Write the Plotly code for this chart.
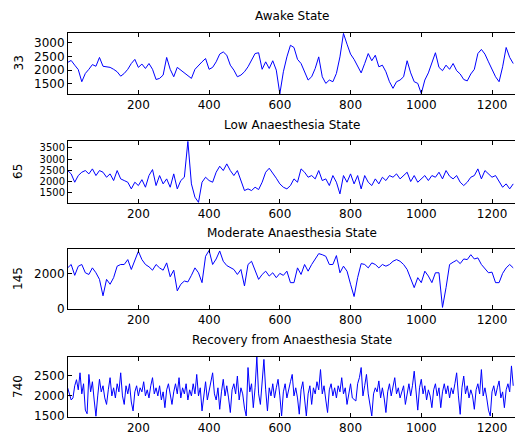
import plotly.graph_objects as go

# ---- data (sample index, signal value) ----
samples_10 = list(range(0, 1261, 10))
samples_5 = list(range(0, 1261, 5))

awake = [
    2280, 2350, 2180, 2020, 1580, 1880, 2030, 2200, 2140, 2460,
    2140, 2120, 2100, 2030, 1940, 1780, 1880, 2030, 2240, 2390,
    2100, 2220, 2060, 2240, 2030, 1660, 1700, 1820, 2460, 2030,
    1760, 2100, 2000, 1900, 1820, 1700, 2030, 2180, 2300, 2420,
    2030, 2100, 2300, 2580, 2660, 2540, 2180, 2000, 1760, 1820,
    1940, 2120, 2340, 2600, 2630, 2030, 2300, 2060, 2340, 2000,
    1140, 1940, 2480, 2900, 2820, 2390, 2240, 1940, 1640, 1760,
    2060, 2480, 1760, 1520, 1640, 1580, 1880, 2480, 3330, 2940,
    2580, 2390, 2140, 1900, 2240, 2600, 2340, 2540, 2120, 2180,
    1940, 1580, 1340, 1580, 1640, 1760, 2340, 1900, 1580, 1520,
    1150, 1640, 1900, 2300, 2630, 2100, 1980, 2180, 2030, 2240,
    1980, 1860, 1660, 1610, 1860, 2030, 2600, 2750, 2580, 2300,
    2000, 1760, 1580, 2120, 2820, 2460, 2240,
]

low = [
    2480, 2330, 1955, 2255, 2405, 2480, 2330, 2555, 2255, 2480,
    2405, 2180, 2330, 2030, 2480, 2105, 2030, 1955, 1655, 1955,
    1805, 2070, 1730, 2255, 2525, 1805, 2255, 1880, 2105, 1730,
    2330, 1655, 2030, 2180, 3790, 1880, 1280, 1050, 1955, 2180,
    2030, 1955, 2405, 2675, 2480, 2780, 2480, 2255, 2480, 1985,
    1580, 1655, 1580, 1730, 1625, 1955, 2405, 2585, 2375, 2135,
    1880, 1730, 1655, 1805, 2105, 1955, 2555, 2405, 2180, 2255,
    2105, 2480, 2030, 2105, 1805, 2255, 1955, 1430, 2255, 1955,
    2330, 1880, 2255, 1655, 2255, 1955, 1805, 2105, 1880, 2180,
    2030, 2255, 2180, 2330, 2105, 2255, 2405, 1985, 2255, 1955,
    2105, 2255, 2030, 2255, 2180, 2405, 2105, 2480, 2225, 2105,
    2255, 1955, 1805, 1955, 2180, 2255, 2555, 2105, 2480, 2330,
    2180, 2255, 1985, 1730, 1880, 1655, 1880,
]

moderate = [
    2310, 2500, 1890, 2400, 2500, 2035, 1940, 2310, 2035, 1665,
    740, 1665, 1390, 1760, 2405, 2500, 2500, 2775, 2220, 2680,
    3240, 2775, 2500, 2370, 2180, 2500, 2310, 2180, 2590, 1810,
    2180, 1020, 1390, 1570, 1520, 1890, 2310, 2035, 1480, 2960,
    3290, 2500, 2810, 3260, 2680, 2440, 2310, 2220, 1940, 2220,
    1295, 2500, 2680, 2220, 1665, 1940, 2125, 1850, 2035, 1760,
    2000, 1890, 2125, 1480, 1480, 2310, 1940, 2500, 2125, 2500,
    2775, 3110, 3050, 2960, 2500, 2500, 3000, 2035, 2405, 2125,
    1390, 700, 1760, 2550, 2500, 2310, 2590, 2500, 2310, 2500,
    2405, 2500, 2680, 2775, 2680, 2500, 2220, 1760, 1200, 1760,
    1480, 2125, 1850, 1480, 2035, 2035, 90, 1200, 2500, 2630,
    2740, 2550, 2810, 2775, 3050, 2810, 2870, 2500, 2260, 2035,
    2070, 1480, 1480, 2000, 2310, 2500, 2310,
]

recovery = [
    2200, 2050, 1900, 1950, 2250, 2400, 2150, 2570, 2050, 2300,
    1650, 1560, 2530, 2100, 2350, 1900, 1500, 2000, 2410, 2100,
    2250, 1950, 1790, 2150, 2450, 2000, 2200, 1950, 2300, 2100,
    2570, 2000, 1790, 2250, 2050, 2300, 1850, 1630, 2100, 2250,
    2000, 2200, 2100, 2350, 2000, 2150, 1950, 2250, 2450, 2050,
    2200, 2000, 2250, 1900, 2100, 1710, 2150, 2300, 2000, 1790,
    2100, 2300, 2050, 2450, 1950, 2200, 2050, 2300, 1900, 2150,
    2000, 2300, 2050, 2530, 2000, 2200, 1630, 2050, 2350, 1900,
    2150, 2300, 2570, 2050, 1900, 2200, 1670, 2100, 2410, 2000,
    2250, 1950, 1590, 2150, 2300, 2050, 2490, 1900, 2200, 2050,
    1700, 1505, 2700, 2100, 2300, 1710, 2200, 2960, 2050, 1790,
    2400, 2900, 2150, 1630, 2200, 2000, 2300, 1950, 2200, 2410,
    2000, 1505, 2100, 2300, 1950, 2200, 2350, 2530, 2000, 2200,
    1950, 1550, 2150, 2350, 1900, 1505, 2050, 2250, 1790, 2200,
    2050, 2350, 2150, 2650, 2050, 2250, 1900, 1590, 2150, 2300,
    2000, 2200, 1950, 2250, 2100, 2450, 2050, 2200, 1790, 2100,
    2300, 1950, 1900, 1875, 2300, 2450, 2700, 2000, 2250, 2530,
    2050, 1800, 1505, 2050, 2200, 2100, 2370, 1950, 2200, 1950,
    1590, 2100, 2300, 2000, 2250, 2450, 2050, 2200, 1950, 2100,
    2250, 1790, 2100, 2300, 2000, 2250, 2610, 2050, 1650, 2200,
    2410, 2050, 2250, 1900, 2150, 2000, 1710, 2150, 2300, 2000,
    2200, 1710, 2100, 2300, 2050, 2250, 1950, 2200, 2050, 2300,
    2570, 2000, 1546, 2200, 2490, 2050, 2250, 1950, 2150, 2000,
    1670, 2150, 2300, 2050, 2650, 2000, 2200, 1950, 1650, 1505,
    2100, 2250, 2000, 2200, 2370, 1950, 2100, 1710, 2150, 2300,
    2100, 2740, 2250,
]

panels = [
    ("Awake State", "33", samples_10, awake, [1135, 3345], [1500, 2000, 2500, 3000], 12),
    ("Low Anaesthesia State", "65", samples_10, low, [1020, 3810], [1500, 2000, 2500, 3000, 3500], 10),
    ("Moderate Anaesthesia State", "145", samples_10, moderate, [0, 3370], [0, 2000], 12),
    ("Recovery from Anaesthesia State", "740", samples_5, recovery, [1480, 2960], [1500, 2000, 2500], 12),
]
x_ticks = [200, 400, 600, 800, 1000, 1200]

# ---- layout (pixel geometry) ----
W, H = 515, 439
left = 68
panel_px = [(33, 94), (141, 203), (249, 309), (357, 417)]
title_py = [16, 125, 233, 340]

font = dict(family="DejaVu Sans", size=12, color="black")
fig = go.Figure()
layout = dict(
    width=W, height=H, margin=dict(l=left, r=0, t=0, b=0, autoexpand=False),
    paper_bgcolor="white", plot_bgcolor="white", showlegend=False,
    font=font, annotations=[],
)

for k, (title, ylab, xs, ys, yr, yt, yfs) in enumerate(panels):
    n = "" if k == 0 else str(k + 1)
    fig.add_trace(go.Scatter(
        x=xs, y=ys, mode="lines", line=dict(color="#0000ff", width=1),
        xaxis="x" + n, yaxis="y" + n, hoverinfo="skip",
    ))
    top, bot = panel_px[k]
    layout["xaxis" + n] = dict(
        domain=[0, 1], anchor="y" + n, range=[1, 1265], automargin=False,
        tickvals=x_ticks, ticks="inside", ticklen=4, tickcolor="black",
        showline=True, linecolor="black", linewidth=1, mirror="ticks",
        showgrid=False, zeroline=False, tickfont=font,
    )
    layout["yaxis" + n] = dict(
        domain=[1 - bot / H, 1 - top / H], anchor="x" + n, range=yr,
        automargin=False,
        tickvals=yt, ticks="inside", ticklen=4, tickcolor="black",
        showline=True, linecolor="black", linewidth=1, mirror=False,
        showgrid=False, zeroline=False, tickfont=dict(font, size=yfs),
    )
    layout["annotations"].append(dict(
        text=title, xref="paper", yref="paper", x=0.5, y=1 - title_py[k] / H,
        xanchor="center", yanchor="middle", showarrow=False, font=font,
    ))
    layout["annotations"].append(dict(
        text=ylab, xref="paper", yref="paper", x=(18 - left) / (W - left),
        y=1 - (top + bot) / 2 / H, xanchor="center", yanchor="middle",
        textangle=-90, showarrow=False, font=font,
    ))

fig.update_layout(**layout)
fig.write_html(
    "out.html",
    config={"displayModeBar": False},
    post_script="document.body.style.margin='0';document.body.style.overflow='hidden';",
)
